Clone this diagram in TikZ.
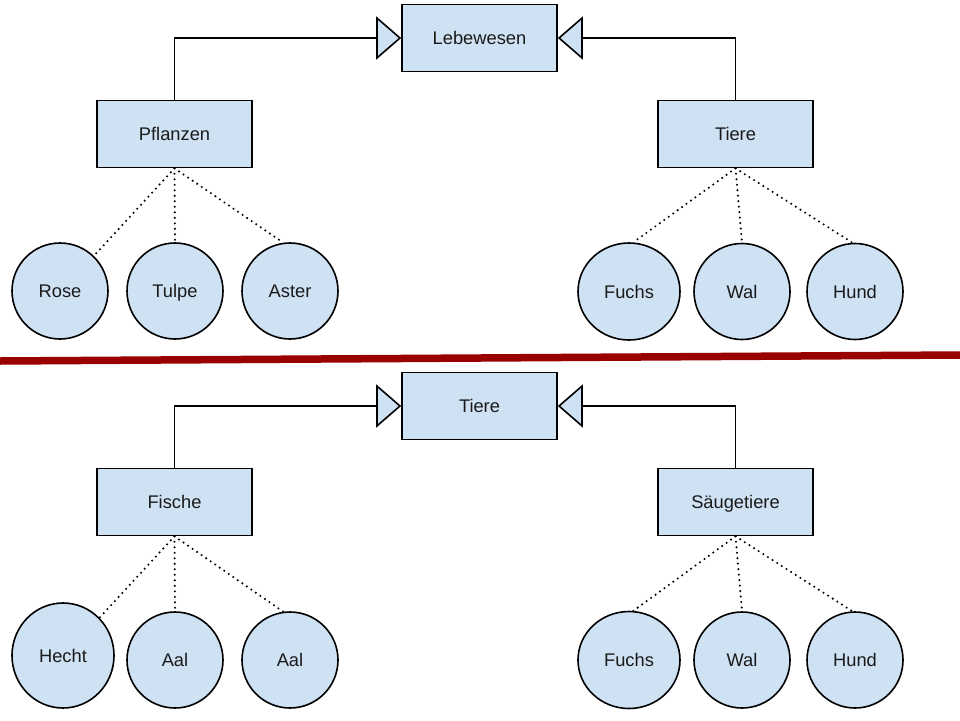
\documentclass[tikz,border=0pt]{standalone}
\usepackage{fontspec}
\setmainfont{Liberation Sans}
\usetikzlibrary{arrows.meta,shapes.geometric}
\definecolor{boxfill}{HTML}{CFE2F3}
\definecolor{darkred}{HTML}{990000}
\definecolor{txt}{HTML}{1A1A1A}
\tikzset{
  lbl/.style={text=txt, font=\fontsize{18.3}{21}\selectfont, text height=13pt, text depth=0pt},
  box/.style={lbl, rectangle, draw=black, line width=1.6pt, fill=boxfill, minimum width=155pt, minimum height=67pt, inner sep=0pt},
  leaf/.style={lbl, circle, draw=black, line width=1.6pt, fill=boxfill, minimum size=96pt, inner sep=0pt},
  leafoval/.style={lbl, ellipse, draw=black, line width=1.6pt, fill=boxfill, inner sep=0pt},
  dotline/.style={line width=2.3pt, dash pattern=on 0pt off 5.5pt, line cap=round},
  inherit/.style={line width=1.6pt, -{Triangle[length=25pt,width=43pt,fill=boxfill]}},
  sep/.style={line width=7.5pt, draw=darkred}
}
\begin{document}
\begin{tikzpicture}[x=1pt,y=-1pt]
\useasboundingbox (0,0) rectangle (960,720);
% ---- top half
\node[box] (leb) at (479.5,38) {Lebewesen};
\node[box] (pfl) at (174.5,134) {Pflanzen};
\node[box] (tie) at (735.5,134) {Tiere};
\node[leaf] (rose) at (60,291) {Rose};
\node[leaf] (tulpe) at (175,291) {Tulpe};
\node[leaf] (aster) at (290,291) {Aster};
\node[leafoval, minimum width=102pt, minimum height=97pt] (fuchs1) at (629,291.5) {Fuchs};
\node[leaf] (wal1) at (742,291.5) {Wal};
\node[leaf] (hund1) at (855,291.5) {Hund};
\draw[inherit] (pfl.north) |- (leb.west);
\draw[inherit] (tie.north) |- (leb.east);
\draw[dotline] (pfl.south) -- (rose.46);
\draw[dotline] (pfl.south) -- (tulpe.north);
\draw[dotline] (pfl.south) -- (aster.98);
\draw[dotline] (tie.south) -- (fuchs1.85);
\draw[dotline] (tie.south) -- (wal1.north);
\draw[dotline] (tie.south) -- (hund1.93);
% ---- separator
\coordinate (sepL) at (0,361);
\coordinate (sepR) at (960,355);
\draw[sep] (sepL) -- (sepR);
% ---- bottom half
\node[box] (tie2) at (479.5,406) {Tiere};
\node[box] (fis) at (174.5,502) {Fische};
\node[box] (sae) at (735.5,502) {Säugetiere};
\node[leafoval, minimum width=102pt, minimum height=105pt] (hecht) at (63,655.5) {Hecht};
\node[leaf] (aal1) at (175,660) {Aal};
\node[leaf] (aal2) at (290,660) {Aal};
\node[leafoval, minimum width=102pt, minimum height=97pt] (fuchs2) at (629,660) {Fuchs};
\node[leaf] (wal2) at (742,660) {Wal};
\node[leaf] (hund2) at (855,660) {Hund};
\draw[inherit] (fis.north) |- (tie2.west);
\draw[inherit] (sae.north) |- (tie2.east);
\draw[dotline] (fis.south) -- (hecht.46);
\draw[dotline] (fis.south) -- (aal1.north);
\draw[dotline] (fis.south) -- (aal2.98);
\draw[dotline] (sae.south) -- (fuchs2.85);
\draw[dotline] (sae.south) -- (wal2.north);
\draw[dotline] (sae.south) -- (hund2.93);
\end{tikzpicture}
\end{document}
